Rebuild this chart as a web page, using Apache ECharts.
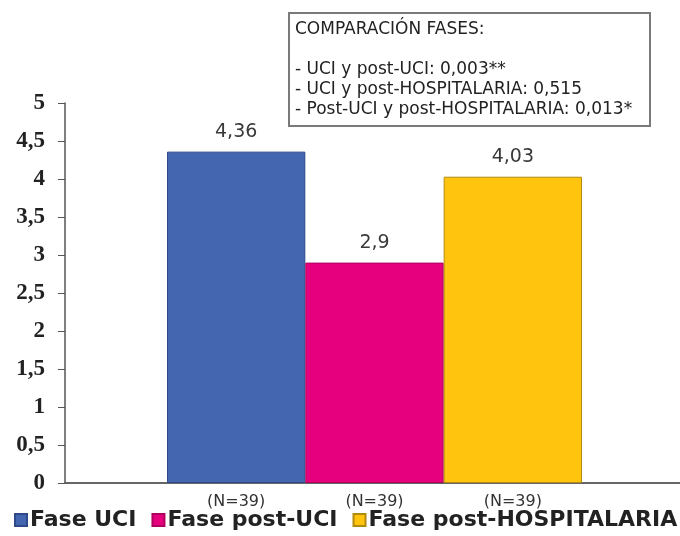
<!DOCTYPE html>
<html>
<head>
  <meta charset="utf-8">
  <script src="https://cdn.jsdelivr.net/npm/echarts@6/dist/echarts.min.js"></script>
  <style>
    html, body { margin: 0; padding: 0; background: #fff; }
    #chart { width: 680px; height: 536px; }
  </style>
</head>
<body>
  <div id="chart"></div>
  <script>
    // datos
    var categories = ['(N=39)', '(N=39)', '(N=39)'];
    var seriesNames = ['Fase UCI', 'Fase post-UCI', 'Fase post-HOSPITALARIA'];
    var values = [4.36, 2.9, 4.03];
    var yTicks = [0, 0.5, 1, 1.5, 2, 2.5, 3, 3.5, 4, 4.5, 5];
    var boxTitle = 'COMPARACIÓN FASES:';
    var comparisons = [
      '- UCI y post-UCI: 0,003**',
      '- UCI y post-HOSPITALARIA: 0,515',
      '- Post-UCI y post-HOSPITALARIA: 0,013*'
    ];

    var colors = ['#4466b0', '#e6007e', '#ffc40d'];
    var borders = ['#2f4a8a', '#b0005f', '#b38a10'];

    function comma(v) { return String(v).replace('.', ','); }

    var series = seriesNames.map(function (name, i) {
      return {
        name: name,
        type: 'bar',
        stack: 'fases',
        barWidth: '100%',
        xAxisIndex: 0,
        yAxisIndex: 0,
        data: categories.map(function (c, j) { return j === i ? values[i] : '-'; }),
        itemStyle: { color: colors[i], borderColor: borders[i], borderWidth: 1 },
        label: {
          show: true,
          position: 'top',
          distance: 10,
          fontFamily: 'DejaVu Sans',
          fontSize: 19,
          color: '#3a3a3a',
          formatter: function (p) { return comma(p.value); }
        }
      };
    });

    var chart = echarts.init(document.getElementById('chart'));
    var option = {
      animation: false,
      title: {
        text: boxTitle + '\n\n' + comparisons.join('\n'),
        left: 289,
        top: 13,
        borderColor: '#7a7a7a',
        borderWidth: 2,
        padding: [7, 18, 6, 6],
        textStyle: {
          fontFamily: 'DejaVu Sans',
          fontWeight: 'normal',
          fontSize: 17,
          lineHeight: 20,
          color: '#222'
        }
      },
      legend: {
        data: seriesNames,
        left: 14,
        top: 509,
        width: 720,
        padding: 0,
        icon: 'rect',
        itemWidth: 12,
        itemHeight: 12,
        itemGap: 15,
        textStyle: {
          fontFamily: 'DejaVu Sans',
          fontWeight: 'bold',
          fontSize: 22,
          color: '#222',
          padding: [0, 0, 0, -2]
        }
      },
      grid: [
        { left: 167, right: 98, top: 103, bottom: 53 },
        { left: 65, right: 0, top: 103, bottom: 53 }
      ],
      xAxis: [
        {
          type: 'category',
          gridIndex: 0,
          data: categories,
          axisLine: { show: false },
          axisTick: { show: false },
          axisLabel: {
            margin: 11,
            fontFamily: 'DejaVu Sans',
            fontSize: 16,
            color: '#333'
          }
        },
        {
          type: 'value',
          gridIndex: 1,
          min: 0,
          max: 1,
          axisLine: { show: true, lineStyle: { color: '#666', width: 2 } },
          axisTick: { show: false },
          axisLabel: { show: false },
          splitLine: { show: false }
        }
      ],
      yAxis: [
        {
          type: 'value',
          gridIndex: 0,
          min: 0,
          max: 5,
          interval: 0.5,
          show: false,
          splitLine: { show: false }
        },
        {
          type: 'value',
          gridIndex: 1,
          min: yTicks[0],
          max: yTicks[yTicks.length - 1],
          interval: 0.5,
          axisLine: { show: true, lineStyle: { color: '#555', width: 1.5 } },
          axisTick: { show: true, length: 7, lineStyle: { color: '#555' } },
          splitLine: { show: false },
          axisLabel: {
            margin: 20,
            fontFamily: 'Liberation Serif',
            fontWeight: 'bold',
            fontSize: 23,
            color: '#222',
            formatter: function (v) { return comma(v); }
          }
        }
      ],
      series: series
    };
    chart.setOption(option);
  </script>
</body>
</html>
